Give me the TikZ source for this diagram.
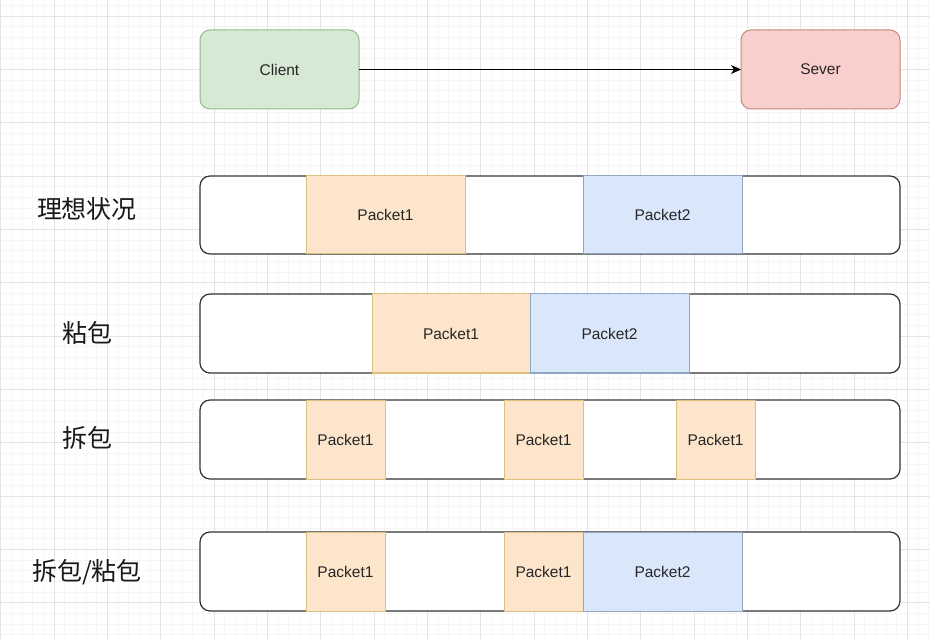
\documentclass[tikz,border=0pt]{standalone}
\usepackage{fontspec}
\setmainfont{Liberation Sans}
\newfontfamily\cjk{Noto Sans CJK SC}
\usetikzlibrary{arrows.meta}
\definecolor{gridminor}{HTML}{F6F6F6}
\definecolor{gridmajor}{HTML}{E4E4E4}
\definecolor{gfill}{HTML}{D6E9D4}
\definecolor{gdraw}{HTML}{97B98B}
\definecolor{rfill}{HTML}{F8CFCD}
\definecolor{rdraw}{HTML}{C8877F}
\definecolor{ofill}{HTML}{FDE5CB}
\definecolor{odraw}{HTML}{DEC07C}
\definecolor{bfill}{HTML}{DAE7FB}
\definecolor{bdraw}{HTML}{8FA6C5}
\definecolor{txt}{HTML}{262626}
\begin{document}
\begin{tikzpicture}[x=1pt,y=-1pt,
  every node/.style={inner sep=0pt,outer sep=0pt,text=txt},
  endpoint/.style={rounded corners=10pt,minimum width=159pt,minimum height=79pt,line width=1pt,font=\fontsize{15.5}{18}\selectfont},
  clientbox/.style={endpoint,draw=gdraw,fill=gfill},
  serverbox/.style={endpoint,draw=rdraw,fill=rfill},
  bar/.style={draw=black!80,line width=1.2pt,fill=white,rounded corners=10pt,minimum width=700pt},
  pk/.style={line width=1pt,font=\fontsize{15.5}{18}\selectfont},
  pkone/.style={pk,draw=odraw,fill=ofill},
  pktwo/.style={pk,draw=bdraw,fill=bfill},
  rowlabel/.style={font=\cjk\fontsize{25}{30}\selectfont,text=black!90}
]
\useasboundingbox (0,0) rectangle (930,639);
\fill[white] (0,0) rectangle (930,639);
% grid
\foreach \i in {0,...,88} {\draw[gridminor,line width=0.6pt] ({0.67+\i*10.667},0) -- ({0.67+\i*10.667},639);}
\foreach \i in {0,...,60} {\draw[gridminor,line width=0.6pt] (0,{5.33+\i*10.667}) -- (930,{5.33+\i*10.667});}
\foreach \i in {0,...,17} {\draw[gridmajor,line width=0.8pt] ({0.67+\i*53.333},0) -- ({0.67+\i*53.333},639);}
\foreach \i in {0,...,12} {\draw[gridmajor,line width=0.8pt] (0,{16+\i*53.333}) -- (930,{16+\i*53.333});}

% client / server
\node[clientbox] (client) at (279.5,69.5) {Client};
\node[serverbox] (server) at (820.5,69.5) {Sever};
\draw[-{Stealth[length=10pt,width=9pt,inset=3pt]},line width=1pt,black] (client.east) -- (server.west);

% row 1
\node[rowlabel] (l1) at (87,209) {理想状况};
\node[bar,minimum height=78pt] (b1) at (550,215) {};
\node[pkone,minimum width=159pt,minimum height=78pt] (b1p1) at (385.5,215) {Packet1};
\node[pktwo,minimum width=159pt,minimum height=78pt] (b1p2) at (662.5,215) {Packet2};

% row 2
\node[rowlabel] (l2) at (87,333) {粘包};
\node[bar,minimum height=79pt] (b2) at (550,333.5) {};
\node[pkone,minimum width=158pt,minimum height=79pt] (b2p1) at (451,333.5) {Packet1};
\node[pktwo,minimum width=159pt,minimum height=79pt] (b2p2) at (609.5,333.5) {Packet2};

% row 3
\node[rowlabel] (l3) at (87,438) {拆包};
\node[bar,minimum height=79pt] (b3) at (550,439.5) {};
\node[pkone,minimum width=79pt,minimum height=79pt] (b3p1) at (345.5,439.5) {Packet1};
\node[pkone,minimum width=79pt,minimum height=79pt] (b3p2) at (543.5,439.5) {Packet1};
\node[pkone,minimum width=79pt,minimum height=79pt] (b3p3) at (715.5,439.5) {Packet1};

% row 4
\node[rowlabel] (l4) at (87,572) {拆包/粘包};
\node[bar,minimum height=79pt] (b4) at (550,571.5) {};
\node[pkone,minimum width=79pt,minimum height=79pt] (b4p1) at (345.5,571.5) {Packet1};
\node[pkone,minimum width=79pt,minimum height=79pt] (b4p2) at (543.5,571.5) {Packet1};
\node[pktwo,minimum width=159pt,minimum height=79pt] (b4p3) at (662.5,571.5) {Packet2};
\end{tikzpicture}
\end{document}
